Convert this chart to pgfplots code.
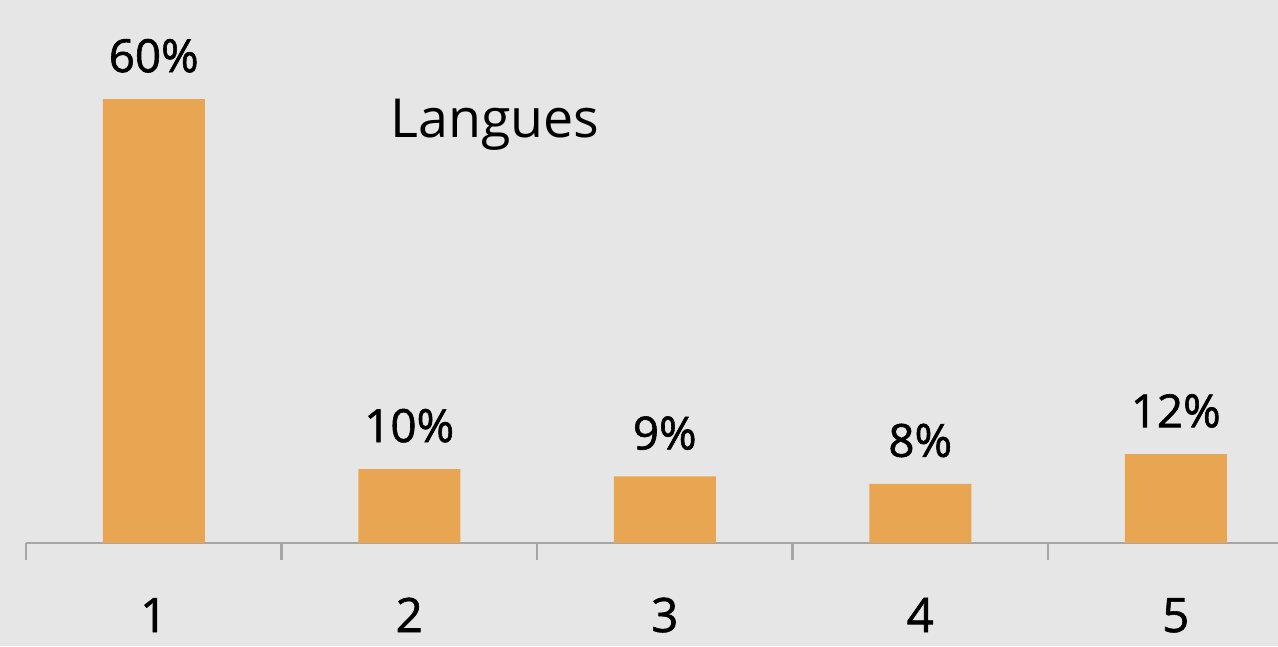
\documentclass[border=0pt]{standalone}
\usepackage{fontspec}
\setmainfont{Open Sans}
\newfontfamily\semib{Open Sans}[FakeBold=1.3]
\usepackage{pgfplots}
\pgfplotsset{compat=1.18}
\definecolor{bg}{RGB}{230,230,230}
\definecolor{barorange}{RGB}{232,166,83}
\definecolor{axisgray}{RGB}{166,166,166}

\begin{document}
\begin{tikzpicture}
\useasboundingbox (0,0) rectangle (12.78,6.46);
\fill[bg] (0,0) rectangle (12.78,6.46);
\begin{axis}[
    at={(0.26cm,1.03cm)},
    anchor=south west,
    scale only axis,
    width=12.52cm,
    height=5.43cm,
    xmin=0.5, xmax=5.4,
    ymin=0, ymax=73.4,
    axis x line=bottom,
    axis y line=none,
    axis line style={axisgray, line width=0.8pt, -},
    xtick={1,2,3,4,5},
    xticklabels={1,2,3,4,5},
    tick align=outside,
    x tick style={axisgray, line width=0.8pt},
    major tick length=0pt,
    extra x ticks={0.5,1.5,2.5,3.5,4.5},
    extra x tick labels={},
    extra x tick style={major tick length=1.7mm, tick align=outside},
    xticklabel style={font=\semib\fontsize{13.5}{15}\selectfont, anchor=base, yshift=-8.9mm},
    ytick=\empty,
    /pgf/number format/assume math mode=true,
    ybar,
    bar width=10.2mm,
    nodes near coords={\pgfmathprintnumber{\pgfplotspointmeta}\%},
    nodes near coords style={font=\semib\fontsize{13}{15}\selectfont, anchor=base, yshift=2.7mm},
    clip=false,
]
\addplot[fill=barorange, draw=none] coordinates {
    (1,60) (2,10) (3,9) (4,8) (5,12)
};
\end{axis}
\node[font=\fontsize{15.3}{18}\selectfont] at (4.95,5.21) {Langues};
\end{tikzpicture}
\end{document}
